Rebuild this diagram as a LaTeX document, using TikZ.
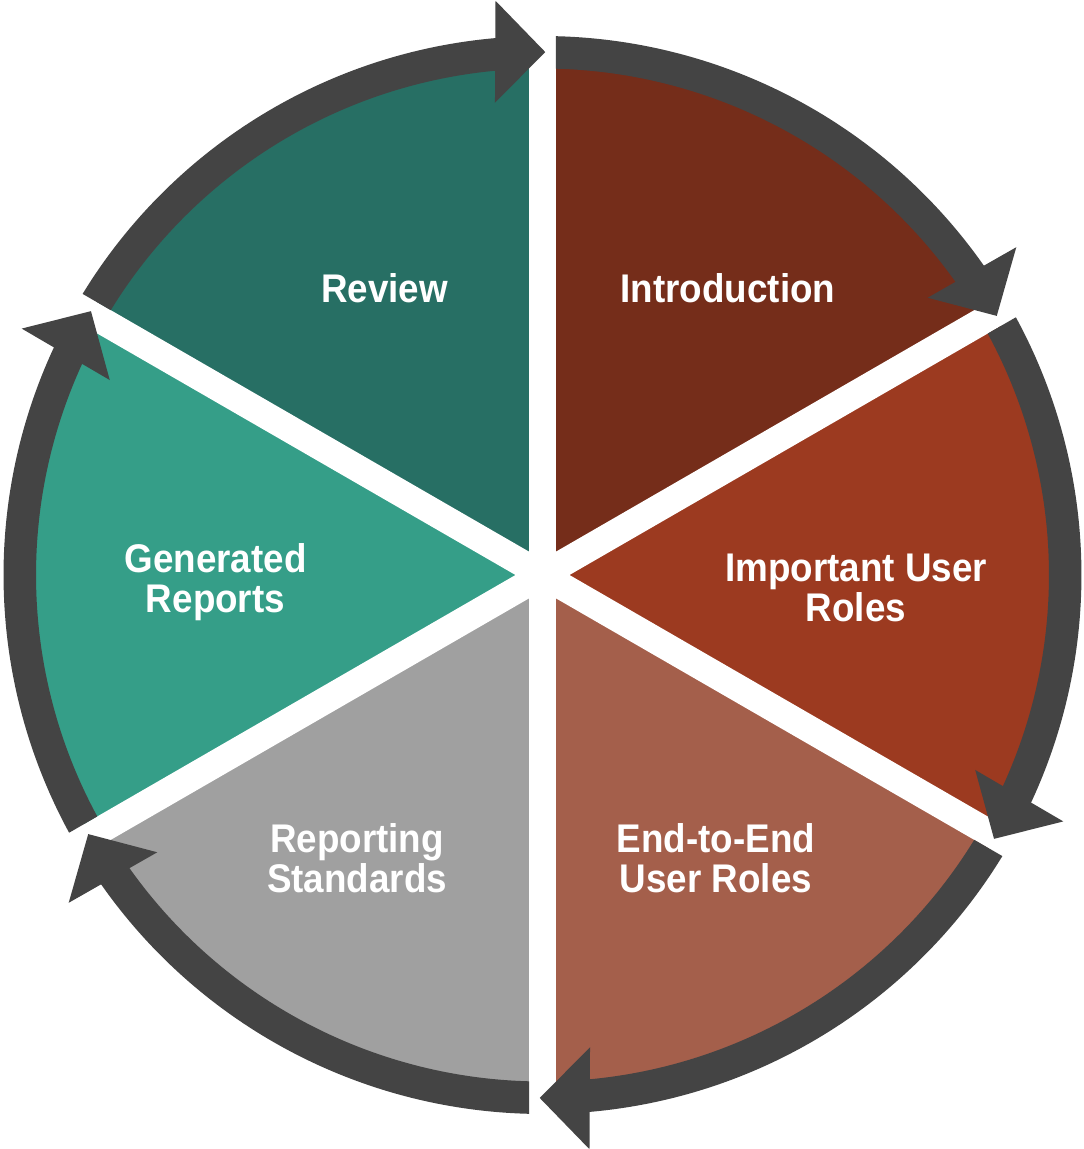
\documentclass[tikz,border=0pt]{standalone}
\usepackage{fontspec}
\newfontfamily\lblfont{Liberation Sans}[FakeStretch=0.92]
\usetikzlibrary{calc}
\definecolor{ringc}{HTML}{444444}
\definecolor{cRev}{HTML}{276F64}
\definecolor{cIntro}{HTML}{752D1A}
\definecolor{cImp}{HTML}{9C3A20}
\definecolor{cEnd}{HTML}{A45F4B}
\definecolor{cRep}{HTML}{A0A0A0}
\definecolor{cGen}{HTML}{359E88}
\begin{document}
\begin{tikzpicture}[x=1pt,y=1pt,
  lbl/.style={text=white, font=\lblfont\bfseries\fontsize{40}{40}\selectfont,
              align=center, inner sep=0pt, anchor=base}]
\useasboundingbox (-542.5,-574) rectangle (541.5,575);
% pie wedges, clockwise from each start angle
\foreach \a/\col in {150/cRev, 90/cIntro, 30/cImp, -30/cEnd, -90/cRep, -150/cGen}{
  \fill[\col] (0,0) -- (\a:522) arc[start angle=\a, end angle=\a-60, radius=522] -- cycle;
}
% white gaps between the wedges
\foreach \a in {90,30,-30,-90,-150,150}
  \draw[white, line width=27pt] (0,0) -- (\a:560);
% outer ring: one band per wedge, ending in an arrow head
\foreach \a in {150,90,30,-30,-90,-150}{
  \pgfmathsetmacro\t{\a-60.3}
  \pgfmathsetmacro\e{\t+4.5}
  \fill[ringc] (\a-1.435:539) arc[start angle=\a-1.435, end angle=\e, radius=539]
     -- (\e:506.5) arc[start angle=\e, end angle=\a-1.527, radius=506.5] -- cycle;
  \coordinate (tip) at (\t:523);
  \coordinate (bm) at ($(tip)+(\t+90:50)$);
  \fill[ringc] (tip) -- ($(bm)+(\t:51)$) -- ($(bm)+(\t+180:51)$) -- cycle;
}
% labels (base anchor sits on the last line)
\node[lbl] (review) at (-158,272) {Review};
\node[lbl] (intro) at (185.5,272) {Introduction};
\node[lbl] (roles) at (313.5,-46.7) {Important User\\Roles};
\node[lbl] (gen) at (-327,-37.3) {Generated\\Reports};
\node[lbl] (std) at (-185.5,-317.6) {Reporting\\Standards};
\node[lbl] (e2e) at (173.5,-317.6) {End-to-End\\User Roles};
\end{tikzpicture}
\end{document}
